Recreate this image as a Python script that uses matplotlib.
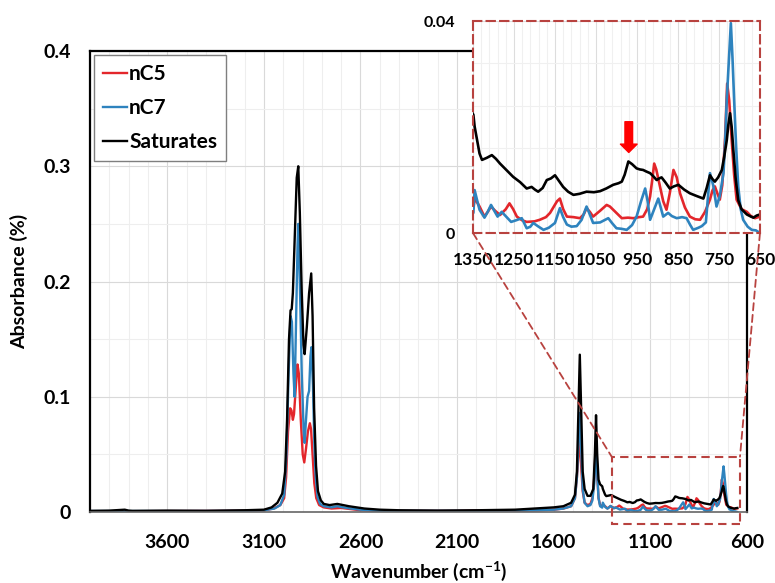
import matplotlib
matplotlib.use('Agg')
import matplotlib.pyplot as plt
from matplotlib.patches import Rectangle, ConnectionPatch
from matplotlib.ticker import MultipleLocator, FuncFormatter

plt.rcParams['font.family'] = ['Lato', 'DejaVu Sans']
plt.rcParams['font.weight'] = 'bold'
plt.rcParams['axes.labelweight'] = 'bold'
plt.rcParams['mathtext.fontset'] = 'custom'
plt.rcParams['mathtext.rm'] = 'Lato:bold'
plt.rcParams['mathtext.bf'] = 'Lato:bold'

# Spectra: wavenumber (cm-1) and absorbance
wn_c5 = [4000, 3600, 3300, 3200, 3100, 3050, 3015, 2995, 2985, 2975, 2964, 2957, 2950, 2944,
         2934, 2926, 2919, 2909, 2899, 2891, 2882, 2872, 2862, 2856, 2846, 2839, 2829, 2814,
         2790, 2750, 2700, 2650, 2600, 2400, 2100, 2000, 1800, 1700, 1600, 1550, 1510, 1490,
         1480, 1472, 1465, 1458, 1450, 1440, 1425, 1410, 1400, 1390, 1381, 1374, 1368, 1360,
         1349, 1346, 1340, 1334, 1322, 1314, 1306, 1296, 1284, 1270, 1261, 1252, 1243, 1230,
         1219, 1200, 1187, 1172, 1162, 1145, 1138, 1130, 1121, 1105, 1089, 1080, 1073, 1065,
         1057, 1040, 1024, 1016, 1008, 995, 987, 972, 959, 945, 935, 925, 918, 912, 908, 903,
         894, 886, 878, 870, 861, 853, 845, 833, 821, 808, 796, 784, 772, 766, 760, 754, 748,
         742, 735, 730, 725, 719, 713, 707, 695, 682, 672, 662, 650]
abs_c5 = [0.0005, 0.0008, 0.001, 0.0012, 0.0015, 0.003, 0.006, 0.012, 0.03, 0.07, 0.09, 0.088,
          0.08, 0.085, 0.11, 0.128, 0.12, 0.08, 0.05, 0.043, 0.055, 0.07, 0.077, 0.072, 0.045,
          0.025, 0.012, 0.006, 0.004, 0.003, 0.0035, 0.0025, 0.0015, 0.001, 0.001, 0.0015,
          0.0012, 0.0015, 0.002, 0.003, 0.005, 0.012, 0.03, 0.05, 0.064, 0.04, 0.018, 0.008,
          0.006, 0.007, 0.012, 0.03, 0.062, 0.03, 0.012, 0.006,
          0.0047, 0.0065, 0.0058, 0.0050, 0.0031, 0.0040, 0.0050, 0.0042, 0.0034, 0.0045,
          0.0056, 0.0045, 0.0031, 0.0024, 0.0021, 0.0022, 0.0025, 0.0030, 0.0038, 0.0060,
          0.0065, 0.0045, 0.0031, 0.0030, 0.0028, 0.0035, 0.0047, 0.0040, 0.0031, 0.0042,
          0.0053, 0.0050, 0.0044, 0.0034, 0.0028, 0.0029, 0.0028, 0.0030, 0.0031, 0.0045,
          0.0069, 0.0105, 0.0131, 0.0120, 0.0088, 0.0060, 0.0044, 0.0075, 0.0119, 0.0105,
          0.0075, 0.0048, 0.0031, 0.0026, 0.0025, 0.0040, 0.0063, 0.0080, 0.0088, 0.0075,
          0.0063, 0.0090, 0.0180, 0.0282, 0.0250, 0.0176, 0.0110, 0.0063, 0.0045, 0.0040,
          0.0032, 0.0028, 0.0031]

wn_c7 = [4000, 3600, 3200, 3100, 3045, 3015, 2995, 2983, 2972, 2962, 2955, 2947, 2941, 2934,
         2926, 2922, 2914, 2904, 2894, 2889, 2882, 2874, 2866, 2859, 2854, 2846, 2839, 2832,
         2822, 2809, 2790, 2750, 2720, 2690, 2650, 2600, 2500, 2000, 1700, 1600, 1550, 1510,
         1490, 1480, 1472, 1465, 1458, 1450, 1440, 1425, 1410, 1400, 1390, 1381, 1374, 1368,
         1360,
         1349, 1346, 1340, 1334, 1322, 1314, 1306, 1298, 1290, 1280, 1268, 1257, 1245, 1231,
         1219, 1210, 1203, 1190, 1178, 1165, 1150, 1143, 1138, 1130, 1121, 1110, 1097, 1085,
         1073, 1065, 1057, 1040, 1020, 1010, 1000, 988, 975, 962, 951, 940, 930, 924, 918, 908,
         898, 892, 886, 874, 865, 853, 840, 829, 820, 813, 800, 792, 782, 772, 764, 756, 748,
         739, 735, 731, 725, 721, 717, 713, 708, 703, 697, 691, 680, 670, 660, 650]
abs_c7 = [0.0008, 0.0008, 0.001, 0.0015, 0.003, 0.006, 0.015, 0.05, 0.12, 0.17, 0.165, 0.12,
          0.1, 0.16, 0.23, 0.25, 0.2, 0.12, 0.07, 0.06, 0.08, 0.1, 0.105, 0.135, 0.143, 0.11,
          0.06, 0.03, 0.013, 0.007, 0.005, 0.004, 0.005, 0.004, 0.003, 0.002, 0.001, 0.001,
          0.0015, 0.002, 0.003, 0.005, 0.012, 0.03, 0.06, 0.086, 0.055, 0.02, 0.008, 0.005,
          0.006, 0.01, 0.025, 0.06, 0.03, 0.012, 0.005,
          0.0038, 0.0081, 0.0062, 0.0044, 0.0029, 0.0040, 0.0053, 0.0042, 0.0031, 0.0040,
          0.0030, 0.0021, 0.0024, 0.0028, 0.0009, 0.0012, 0.0019, 0.0012, 0.0006, 0.0010,
          0.0019, 0.0035, 0.0047, 0.0030, 0.0016, 0.0012, 0.0013, 0.0025, 0.0050, 0.0035,
          0.0019, 0.0020, 0.0028, 0.0018, 0.0009, 0.0008, 0.0006, 0.0015, 0.0031, 0.0060,
          0.0084, 0.0060, 0.0025, 0.0045, 0.0065, 0.0048, 0.0031, 0.0038, 0.0032, 0.0028,
          0.0030, 0.0028, 0.0015, 0.0006, 0.0010, 0.0013, 0.0020, 0.0113, 0.0090, 0.0050,
          0.0070, 0.0113, 0.0170, 0.0251, 0.0340, 0.0396, 0.0330, 0.0251, 0.0160, 0.0088,
          0.0045, 0.0025, 0.0012, 0.0006, 0.0005, 0.0]

wn_sat = [4000, 3900, 3820, 3800, 3780, 3600, 3400, 3200, 3100, 3060, 3030, 3005, 2990, 2980,
          2970, 2962, 2956, 2950, 2940, 2930, 2922, 2914, 2904, 2895, 2889, 2878, 2866, 2855,
          2848, 2840, 2830, 2820, 2805, 2790, 2760, 2720, 2690, 2660, 2620, 2580, 2500, 2400,
          2200, 2000, 1800, 1700, 1600, 1550, 1510, 1490, 1480, 1472, 1465, 1458, 1450, 1440,
          1425, 1410, 1395, 1387, 1381, 1375, 1368, 1360,
          1349, 1346, 1340, 1334, 1328, 1316, 1304, 1294, 1284, 1270, 1252, 1235, 1219, 1207,
          1199, 1191, 1180, 1170, 1160, 1150, 1140, 1130, 1118, 1105, 1090, 1073, 1055, 1040,
          1025, 1008, 995, 987, 980, 971, 962, 951, 943, 935, 927, 918, 910, 902, 896, 890, 880,
          870, 860, 849, 835, 821, 805, 788, 780, 772, 766, 760, 752, 743, 737, 731, 727, 723,
          719, 715, 709, 703, 695, 682, 672, 666, 658, 650]
abs_sat = [0.001, 0.0012, 0.002, 0.0012, 0.001, 0.0012, 0.001, 0.0015, 0.002, 0.004, 0.008,
           0.016, 0.035, 0.08, 0.15, 0.175, 0.176, 0.19, 0.24, 0.29, 0.3, 0.26, 0.19, 0.145,
           0.137, 0.16, 0.19, 0.207, 0.17, 0.09, 0.04, 0.018, 0.01, 0.007, 0.006, 0.007, 0.006,
           0.005, 0.004, 0.003, 0.002, 0.0015, 0.0012, 0.0015, 0.002, 0.003, 0.004, 0.005,
           0.008, 0.015, 0.035, 0.09, 0.1365, 0.09, 0.035, 0.02, 0.014, 0.014, 0.02, 0.05,
           0.084, 0.05, 0.028, 0.024,
           0.0223, 0.0201, 0.0175, 0.0150, 0.0138, 0.0142, 0.0147, 0.0140, 0.0131, 0.0120,
           0.0106, 0.0096, 0.0084, 0.0087, 0.0082, 0.0078, 0.0085, 0.0100, 0.0103, 0.0109,
           0.0098, 0.0087, 0.0078, 0.0072, 0.0074, 0.0078, 0.0077, 0.0079, 0.0084, 0.0091,
           0.0094, 0.0097, 0.0110, 0.0135, 0.0130, 0.0122, 0.0120, 0.0119, 0.0116, 0.0113,
           0.0107, 0.0100, 0.0103, 0.0105, 0.0095, 0.0084, 0.0088, 0.0091, 0.0082, 0.0075,
           0.0070, 0.0065, 0.0085, 0.0109, 0.0102, 0.0097, 0.0105, 0.0119, 0.0145, 0.0175,
           0.0205, 0.0226, 0.0200, 0.0157, 0.0100, 0.0062, 0.0045, 0.0035, 0.0031, 0.0029,
           0.0033, 0.0035]

series = [('nC5', wn_c5, abs_c5, '#E3262B'),
          ('nC7', wn_c7, abs_c7, '#2E83BE'),
          ('Saturates', wn_sat, abs_sat, '#000000')]

frame_red = '#B8423F'

fig = plt.figure(figsize=(7.75, 5.83), dpi=100)
ax = fig.add_axes([0.1161, 0.1218, 0.8477, 0.7907])

for name, x, y, c in series:
    ax.plot(x, y, color=c, lw=1.7, label=name)

ax.set_xlim(4000, 600)
ax.set_ylim(0, 0.4)
ax.xaxis.set_major_locator(MultipleLocator(500, offset=100))
ax.xaxis.set_minor_locator(MultipleLocator(100))
ax.yaxis.set_major_locator(MultipleLocator(0.1))
ax.yaxis.set_minor_locator(MultipleLocator(0.05))
ax.yaxis.set_major_formatter(FuncFormatter(lambda v, p: '0' if abs(v) < 1e-9 else f'{v:.1f}'))
ax.grid(which='major', color='#D9D9D9', lw=0.8)
ax.grid(which='minor', color='#EEEEEE', lw=0.8)
ax.set_axisbelow(True)
ax.tick_params(which='both', length=0, labelsize=14, pad=16)
ax.tick_params(axis='y', pad=14)
for s in ['left', 'top', 'right']:
    ax.spines[s].set_linewidth(1.6)
ax.spines['bottom'].set_color('#666666')
ax.spines['bottom'].set_linewidth(1.2)

ax.set_xlabel('Wavenumber (cm$^{-1}$)', fontsize=14)
ax.set_ylabel('Absorbance (%)', fontsize=14)
ax.xaxis.set_label_coords(0.5, -0.102)
ax.yaxis.set_label_coords(-0.094, 0.5)

leg = ax.legend(loc='upper left', bbox_to_anchor=(0.006, 0.991), borderaxespad=0,
                fancybox=False, framealpha=1, edgecolor='#7F7F7F',
                prop={'size': 15, 'weight': 'bold'},
                handlelength=1.15, handletextpad=0.12, labelspacing=0.68, borderpad=0.42)
leg.get_frame().set_linewidth(1.0)

# zoom box in the main plot
rect = Rectangle((636, -0.0104), 1300 - 636, 0.0584, fill=False, ec=frame_red,
                 lw=1.5, ls=(0, (4, 2.5)), clip_on=False, zorder=5)
ax.add_patch(rect)

# inset
ax_in = fig.add_axes([0.6103, 0.6003, 0.3703, 0.3636])
for name, x, y, c in series:
    ax_in.plot(x, y, color=c, lw=1.9)
ax_in.set_xlim(1350, 650)
ax_in.set_ylim(0, 0.04)
ax_in.set_xticks(range(1350, 649, -100))
ax_in.xaxis.set_minor_locator(MultipleLocator(20, offset=10))
ax_in.set_yticks([0, 0.04])
ax_in.set_yticklabels(['0', '0.04'])
ax_in.yaxis.set_minor_locator(MultipleLocator(0.008))
ax_in.grid(which='major', color='#DDDDDD', lw=0.8)
ax_in.grid(which='minor', color='#F0F0F0', lw=0.8)
ax_in.set_axisbelow(True)
ax_in.tick_params(which='both', length=0)
ax_in.tick_params(axis='x', labelsize=12.5, pad=14)
ax_in.tick_params(axis='y', labelsize=11.5, pad=13)
for s in ax_in.spines.values():
    s.set_color(frame_red)
    s.set_linewidth(1.5)
    s.set_linestyle((0, (4, 2.5)))

ax_in.annotate('', xy=(970, 0.0152), xytext=(970, 0.0210),
               arrowprops=dict(arrowstyle='simple,head_width=1.2,head_length=0.6,tail_width=0.55',
                               color='#FF0000', mutation_scale=10, shrinkA=0, shrinkB=0))

for xa, xb in [((0, 0), (1300, 0.048)), ((1, 0), (636, 0.048))]:
    con = ConnectionPatch(xyA=xa, coordsA=ax_in.transAxes, xyB=xb, coordsB=ax.transData,
                          color=frame_red, lw=1.3, ls=(0, (4, 2.5)))
    fig.add_artist(con)

fig.savefig('out.png', dpi=100)
